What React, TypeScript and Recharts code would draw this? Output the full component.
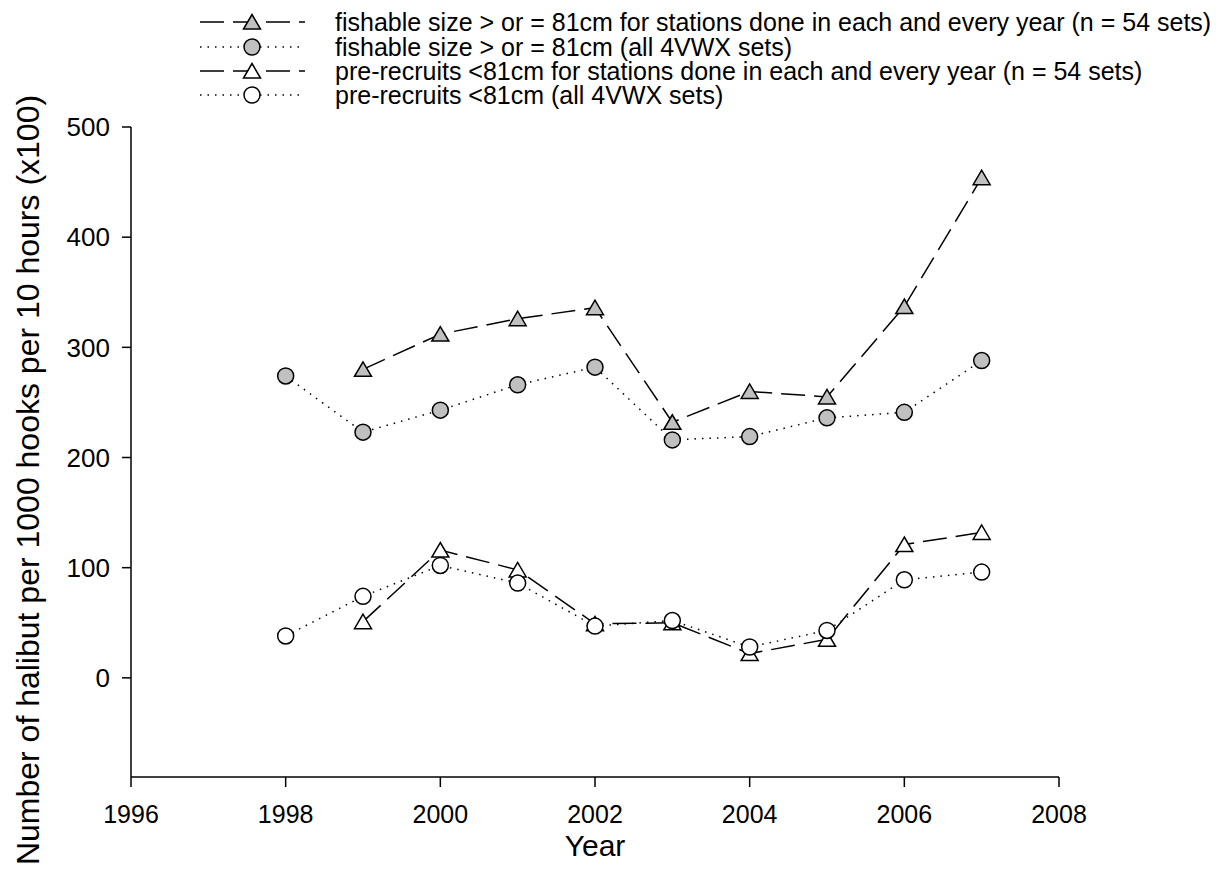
import React from 'react';
import { LineChart, Line, XAxis, YAxis, Customized, Label } from 'recharts';

const years = [1998, 1999, 2000, 2001, 2002, 2003, 2004, 2005, 2006, 2007];
const fishableStations = [null, 280, 312, 326, 336, 232, 260, 255, 337, 454];
const fishableAll = [274, 223, 243, 266, 282, 216, 219, 236, 241, 288];
const preStations = [null, 51, 116, 98, 49, 50, 22, 35, 121, 132];
const preAll = [38, 74, 102, 86, 47, 52, 28, 43, 89, 96];
const xTicks = [1996, 1998, 2000, 2002, 2004, 2006, 2008];
const yTicks = [0, 100, 200, 300, 400, 500];
const seriesLabels = [
  'fishable size > or = 81cm for stations done in each and every year (n = 54 sets)',
  'fishable size > or = 81cm (all 4VWX sets)',
  'pre-recruits <81cm for stations done in each and every year (n = 54 sets)',
  'pre-recruits <81cm (all 4VWX sets)',
];
const xTitle = 'Year';
const yTitle = 'Number of halibut per 1000 hooks per 10 hours (x100)';

const data = years.map((y, i) => ({
  year: y,
  fs: fishableStations[i],
  fa: fishableAll[i],
  ps: preStations[i],
  pa: preAll[i],
}));

const FONT = 'Arial, "Liberation Sans", sans-serif';
const GRAY = '#C0C0C0';
const DASH = '24 9';
const DOT = '1.5 6';

const tri = (cx: number, cy: number, fill: string, key?: string) => (
  <polygon
    key={key}
    points={`${cx},${cy - 7.5} ${cx - 8.5},${cy + 7} ${cx + 8.5},${cy + 7}`}
    fill={fill}
    stroke="#000"
    strokeWidth={1.5}
  />
);
const circ = (cx: number, cy: number, fill: string, key?: string) => (
  <circle key={key} cx={cx} cy={cy} r={8} fill={fill} stroke="#000" strokeWidth={1.5} />
);

const makeDot = (kind: 'tri' | 'circ', fill: string, name: string) => (props: any) => {
  const { cx, cy, index, value } = props;
  const k = `${name}-${index}`;
  if (cx == null || cy == null || value == null || (Array.isArray(value) && value[1] == null)) return <g key={k} />;
  return kind === 'tri' ? tri(cx, cy, fill, k) : circ(cx, cy, fill, k);
};

const XTick = (props: any) => {
  const { x, y, payload } = props;
  return (
    <text x={x} y={y + 28} textAnchor="middle" fontSize={25} fontFamily={FONT} fill="#000">
      {payload.value}
    </text>
  );
};

const LegendBox = () => {
  const rows = [
    { dash: DASH, kind: 'tri', fill: GRAY },
    { dash: DOT, kind: 'circ', fill: GRAY },
    { dash: DASH, kind: 'tri', fill: '#fff' },
    { dash: DOT, kind: 'circ', fill: '#fff' },
  ];
  const ys = [22, 47, 71, 95];
  return (
    <g>
      {rows.map((r, i) => (
        <g key={i}>
          <line x1={200} x2={305} y1={ys[i]} y2={ys[i]} stroke="#000" strokeWidth={1.5} strokeDasharray={r.dash} />
          {r.kind === 'tri' ? tri(252, ys[i], r.fill) : circ(252, ys[i], r.fill)}
          <text x={335} y={ys[i]} dy="0.36em" fontSize={25} fontFamily={FONT} fill="#000">
            {seriesLabels[i]}
          </text>
        </g>
      ))}
    </g>
  );
};

const YTitle = (props: any) => {
  const vb = props.viewBox || {};
  const cx = 27;
  const cy = (vb.y ?? 127) + (vb.height ?? 650) / 2 + 28;
  return (
    <text
      x={cx}
      y={cy}
      dy="0.36em"
      textAnchor="middle"
      transform={`rotate(-90, ${cx}, ${cy})`}
      fontSize={32}
      fontFamily={FONT}
      fill="#000"
    >
      {yTitle}
    </text>
  );
};

const XTitle = (props: any) => {
  const vb = props.viewBox || {};
  const cx = (vb.x ?? 131) + (vb.width ?? 928) / 2;
  const cy = 845;
  return (
    <text x={cx} y={cy} dy="0.36em" textAnchor="middle" fontSize={30} fontFamily={FONT} fill="#000">
      {xTitle}
    </text>
  );
};

export default function App() {
  return (
    <div style={{ position: 'absolute', left: 0, top: 0, width: 1228, height: 882, background: '#fff' }}>
      <LineChart
        width={1228}
        height={882}
        data={data}
        margin={{ top: 127, right: 169, bottom: 0, left: 0 }}
      >
        <XAxis
          dataKey="year"
          type="number"
          domain={[1996, 2008]}
          ticks={xTicks}
          allowDataOverflow
          height={105}
          stroke="#000"
          strokeWidth={1.5}
          tickSize={10}
          tickMargin={8}
          tick={<XTick />}
        >
          <Label content={<XTitle />} />
        </XAxis>
        <YAxis
          type="number"
          domain={[-90, 500]}
          ticks={yTicks}
          allowDataOverflow
          width={131}
          stroke="#000"
          strokeWidth={1.5}
          tickSize={9}
          tickMargin={12}
          tick={{ fill: '#000', fontSize: 26, fontFamily: FONT }}
        >
          <Label content={<YTitle />} />
        </YAxis>
        <Line dataKey="fs" stroke="#000" strokeWidth={1.5} strokeDasharray={DASH} dot={makeDot('tri', GRAY, 'fs')} isAnimationActive={false} />
        <Line dataKey="fa" stroke="#000" strokeWidth={1.5} strokeDasharray={DOT} dot={makeDot('circ', GRAY, 'fa')} isAnimationActive={false} />
        <Line dataKey="ps" stroke="#000" strokeWidth={1.5} strokeDasharray={DASH} dot={makeDot('tri', '#fff', 'ps')} isAnimationActive={false} />
        <Line dataKey="pa" stroke="#000" strokeWidth={1.5} strokeDasharray={DOT} dot={makeDot('circ', '#fff', 'pa')} isAnimationActive={false} />
        <Customized component={LegendBox} />
      </LineChart>
    </div>
  );
}
